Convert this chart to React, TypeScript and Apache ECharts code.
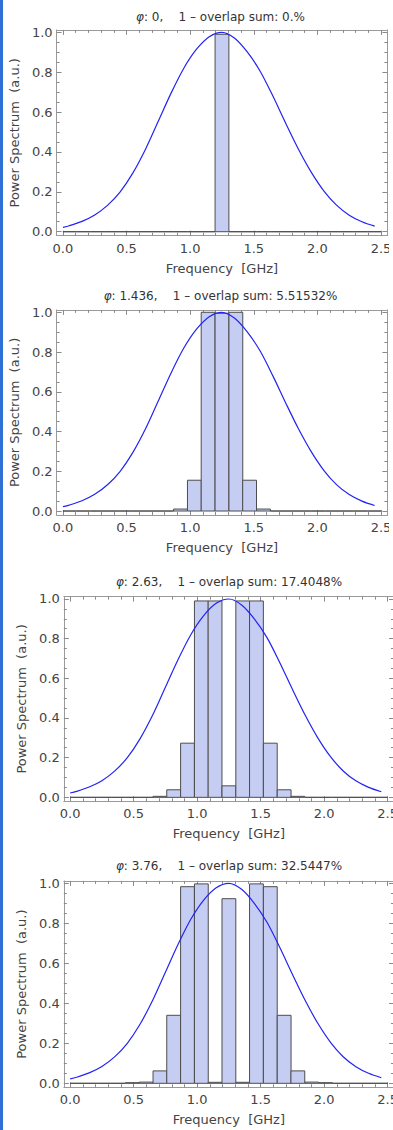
import React, { useEffect, useRef } from "react";
import * as echarts from "echarts";

// ---------- data ----------
const BIN_WIDTH = 0.1087;
const BIN_CENTERS = [
  0.054, 0.163, 0.272, 0.38, 0.489, 0.598, 0.707, 0.815, 0.924, 1.033, 1.141, 1.25,
  1.359, 1.467, 1.576, 1.685, 1.793, 1.902, 2.011, 2.12, 2.228, 2.337, 2.446,
];

const HEIGHTS_1 = [0, 0, 0, 0, 0, 0, 0, 0, 0, 0, 0, 0.99, 0, 0, 0, 0, 0, 0, 0, 0, 0, 0, 0];
const HEIGHTS_2 = [0, 0, 0, 0, 0, 0, 0, 0, 0.01, 0.155, 1.0, 0.995, 1.0, 0.155, 0.01, 0, 0, 0, 0, 0, 0, 0, 0];
const HEIGHTS_3 = [0, 0, 0, 0, 0, 0, 0.005, 0.038, 0.273, 0.99, 0.99, 0.058, 0.99, 0.99, 0.273, 0.038, 0.005, 0, 0, 0, 0, 0, 0];
const HEIGHTS_4 = [0, 0, 0, 0, 0.003, 0.006, 0.062, 0.34, 0.983, 0.997, 0.005, 0.923, 0.005, 0.997, 0.983, 0.34, 0.062, 0.006, 0.003, 0, 0, 0, 0];

const CURVE_FREQ = [0, 0.05, 0.15, 0.25, 0.35, 0.45, 0.55, 0.65, 0.75, 0.85, 0.95, 1.05, 1.15, 1.25, 1.35, 1.45, 1.55, 1.65, 1.75, 1.85, 1.95, 2.05, 2.15, 2.25, 2.35, 2.45];
const CURVE_POWER = [0.022, 0.03, 0.052, 0.084, 0.132, 0.2, 0.295, 0.415, 0.555, 0.695, 0.82, 0.915, 0.978, 1.0, 0.97, 0.9, 0.805, 0.68, 0.545, 0.415, 0.3, 0.205, 0.133, 0.083, 0.05, 0.028];

const PHI = ["0", "1.436", "2.63", "3.76"];
const OVERLAP = ["0.", "5.51532", "17.4048", "32.5447"];

const X_MAJOR = [0, 0.5, 1, 1.5, 2, 2.5];
const X_MINOR = [0.1, 0.2, 0.3, 0.4, 0.6, 0.7, 0.8, 0.9, 1.1, 1.2, 1.3, 1.4, 1.6, 1.7, 1.8, 1.9, 2.1, 2.2, 2.3, 2.4];
const Y_MAJOR = [0, 0.2, 0.4, 0.6, 0.8, 1.0];
const Y_MINOR = [0.05, 0.1, 0.15, 0.25, 0.3, 0.35, 0.45, 0.5, 0.55, 0.65, 0.7, 0.75, 0.85, 0.9, 0.95];

const X_NAME = "Frequency\u00A0\u00A0[GHz]";
const Y_NAME = "Power Spectrum\u00A0\u00A0(a.u.)";

// ---------- layout ----------
const GRIDS = [
  { left: 53.6, top: 29.9, width: 333.8, height: 205.8, titleX: 220.5, titleY: 17 },
  { left: 53.6, top: 309.9, width: 333.8, height: 205.1, titleX: 220.5, titleY: 296 },
  { left: 63.8, top: 596.6, width: 330.2, height: 204.7, titleX: 229, titleY: 582 },
  { left: 63.8, top: 880.9, width: 330.2, height: 206.4, titleX: 229, titleY: 866 },
];
const HEIGHTS = [HEIGHTS_1, HEIGHTS_2, HEIGHTS_3, HEIGHTS_4];

const FONT = "DejaVu Sans";
const FRAME = "#9a9a9a";
const TICK = "#8a8a8a";
const LABEL = "#444";
const BAR_FILL = "#c6cdf3";
const BAR_STROKE = "#4d4d4d";
const CURVE = "#2323f2";

function buildOption() {
  const xAxis: any[] = [];
  const yAxis: any[] = [];
  const series: any[] = [];
  const graphic: any[] = [];

  GRIDS.forEach((g, i) => {
    const xBase = {
      type: "value",
      gridIndex: i,
      min: -0.05,
      max: 2.55,
      splitLine: { show: false },
      axisLine: { show: true, onZero: false, lineStyle: { color: FRAME, width: 1 } },
    };
    const yBase = {
      type: "value",
      gridIndex: i,
      min: -0.02,
      max: 1.012,
      splitLine: { show: false },
      axisLine: { show: true, onZero: false, lineStyle: { color: FRAME, width: 1 } },
    };
    const tick = (vals: number[], len: number) => ({
      show: true,
      inside: true,
      length: len,
      customValues: vals,
      lineStyle: { color: TICK, width: 1 },
    });
    xAxis.push({
      ...xBase,
      position: "bottom",
      axisTick: tick(X_MAJOR, 5),
      axisLabel: {
        show: true,
        customValues: X_MAJOR,
        formatter: (v: number) => v.toFixed(1),
        margin: 6,
        fontFamily: FONT,
        fontSize: 13,
        color: LABEL,
      },
      name: X_NAME,
      nameLocation: "middle",
      nameGap: 26,
      nameTextStyle: { fontFamily: FONT, fontSize: 13, color: LABEL },
    });
    xAxis.push({ ...xBase, position: "bottom", axisLine: { show: false, onZero: false }, axisTick: tick(X_MINOR, 3), axisLabel: { show: false } });
    xAxis.push({ ...xBase, position: "top", axisTick: tick(X_MAJOR, 5), axisLabel: { show: false } });
    xAxis.push({ ...xBase, position: "top", axisLine: { show: false, onZero: false }, axisTick: tick(X_MINOR, 3), axisLabel: { show: false } });

    yAxis.push({
      ...yBase,
      position: "left",
      axisTick: tick(Y_MAJOR, 5),
      axisLabel: {
        show: true,
        customValues: Y_MAJOR,
        formatter: (v: number) => v.toFixed(1),
        margin: 4,
        fontFamily: FONT,
        fontSize: 13,
        color: LABEL,
      },
      name: Y_NAME,
      nameLocation: "middle",
      nameGap: 29,
      nameTextStyle: { fontFamily: FONT, fontSize: 13, color: LABEL },
    });
    yAxis.push({ ...yBase, position: "left", axisLine: { show: false, onZero: false }, axisTick: tick(Y_MINOR, 3), axisLabel: { show: false } });
    yAxis.push({ ...yBase, position: "right", axisTick: tick(Y_MAJOR, 5), axisLabel: { show: false } });
    yAxis.push({ ...yBase, position: "right", axisLine: { show: false, onZero: false }, axisTick: tick(Y_MINOR, 3), axisLabel: { show: false } });

    const heights = HEIGHTS[i];
    series.push({
      type: "custom",
      xAxisIndex: i * 4,
      yAxisIndex: i * 4,
      data: BIN_CENTERS.map((c, k) => [c, heights[k]]),
      renderItem: (params: any, api: any) => {
        const c = api.value(0);
        const h = api.value(1);
        const p0 = api.coord([c - BIN_WIDTH / 2, 0]);
        const p1 = api.coord([c + BIN_WIDTH / 2, h]);
        return {
          type: "polygon",
          shape: {
            points: [
              [p0[0], p0[1]],
              [p1[0], p0[1]],
              [p1[0], p1[1]],
              [p0[0], p1[1]],
            ],
          },
          style: { fill: BAR_FILL, stroke: BAR_STROKE, lineWidth: 1 },
        };
      },
      z: 2,
    });
    series.push({
      type: "line",
      xAxisIndex: i * 4,
      yAxisIndex: i * 4,
      data: CURVE_FREQ.map((f, k) => [f, CURVE_POWER[k]]),
      smooth: 0.3,
      showSymbol: false,
      symbol: "none",
      lineStyle: { color: CURVE, width: 1.2 },
      z: 3,
    });

    graphic.push({
      type: "text",
      x: g.titleX,
      y: g.titleY,
      z: 100,
      style: {
        text: `{i|φ}: ${PHI[i]},\u00A0\u00A0\u00A0\u00A01 – overlap sum: ${OVERLAP[i]}%`,
        fontFamily: FONT,
        fontSize: 12,
        fill: "#333",
        textAlign: "center",
        textVerticalAlign: "middle",
        rich: { i: { fontStyle: "italic", fontFamily: FONT, fontSize: 12, fill: "#333" } },
      },
    });
  });

  graphic.push({ type: "rect", z: 100, shape: { x: 389, y: 0, width: 20, height: 560 }, style: { fill: "#fff" } });
  graphic.push({ type: "rect", z: 100, shape: { x: 0, y: 0, width: 3, height: 1130 }, style: { fill: "#2f70d6" } });

  return {
    animation: false,
    backgroundColor: "#fff",
    grid: GRIDS.map((g) => ({ left: g.left, top: g.top, width: g.width, height: g.height, containLabel: false })),
    xAxis,
    yAxis,
    series,
    graphic,
  };
}

export default function App() {
  const ref = useRef<HTMLDivElement>(null);
  useEffect(() => {
    if (!ref.current) return;
    const chart = echarts.init(ref.current, undefined, { renderer: "svg" });
    chart.setOption(buildOption() as any);
    return () => chart.dispose();
  }, []);
  return (
    <div style={{ position: "absolute", left: 0, top: 0, width: 393, height: 1130, overflow: "hidden", background: "#fff" }}>
      <div ref={ref} style={{ width: 410, height: 1130 }} />
    </div>
  );
}
